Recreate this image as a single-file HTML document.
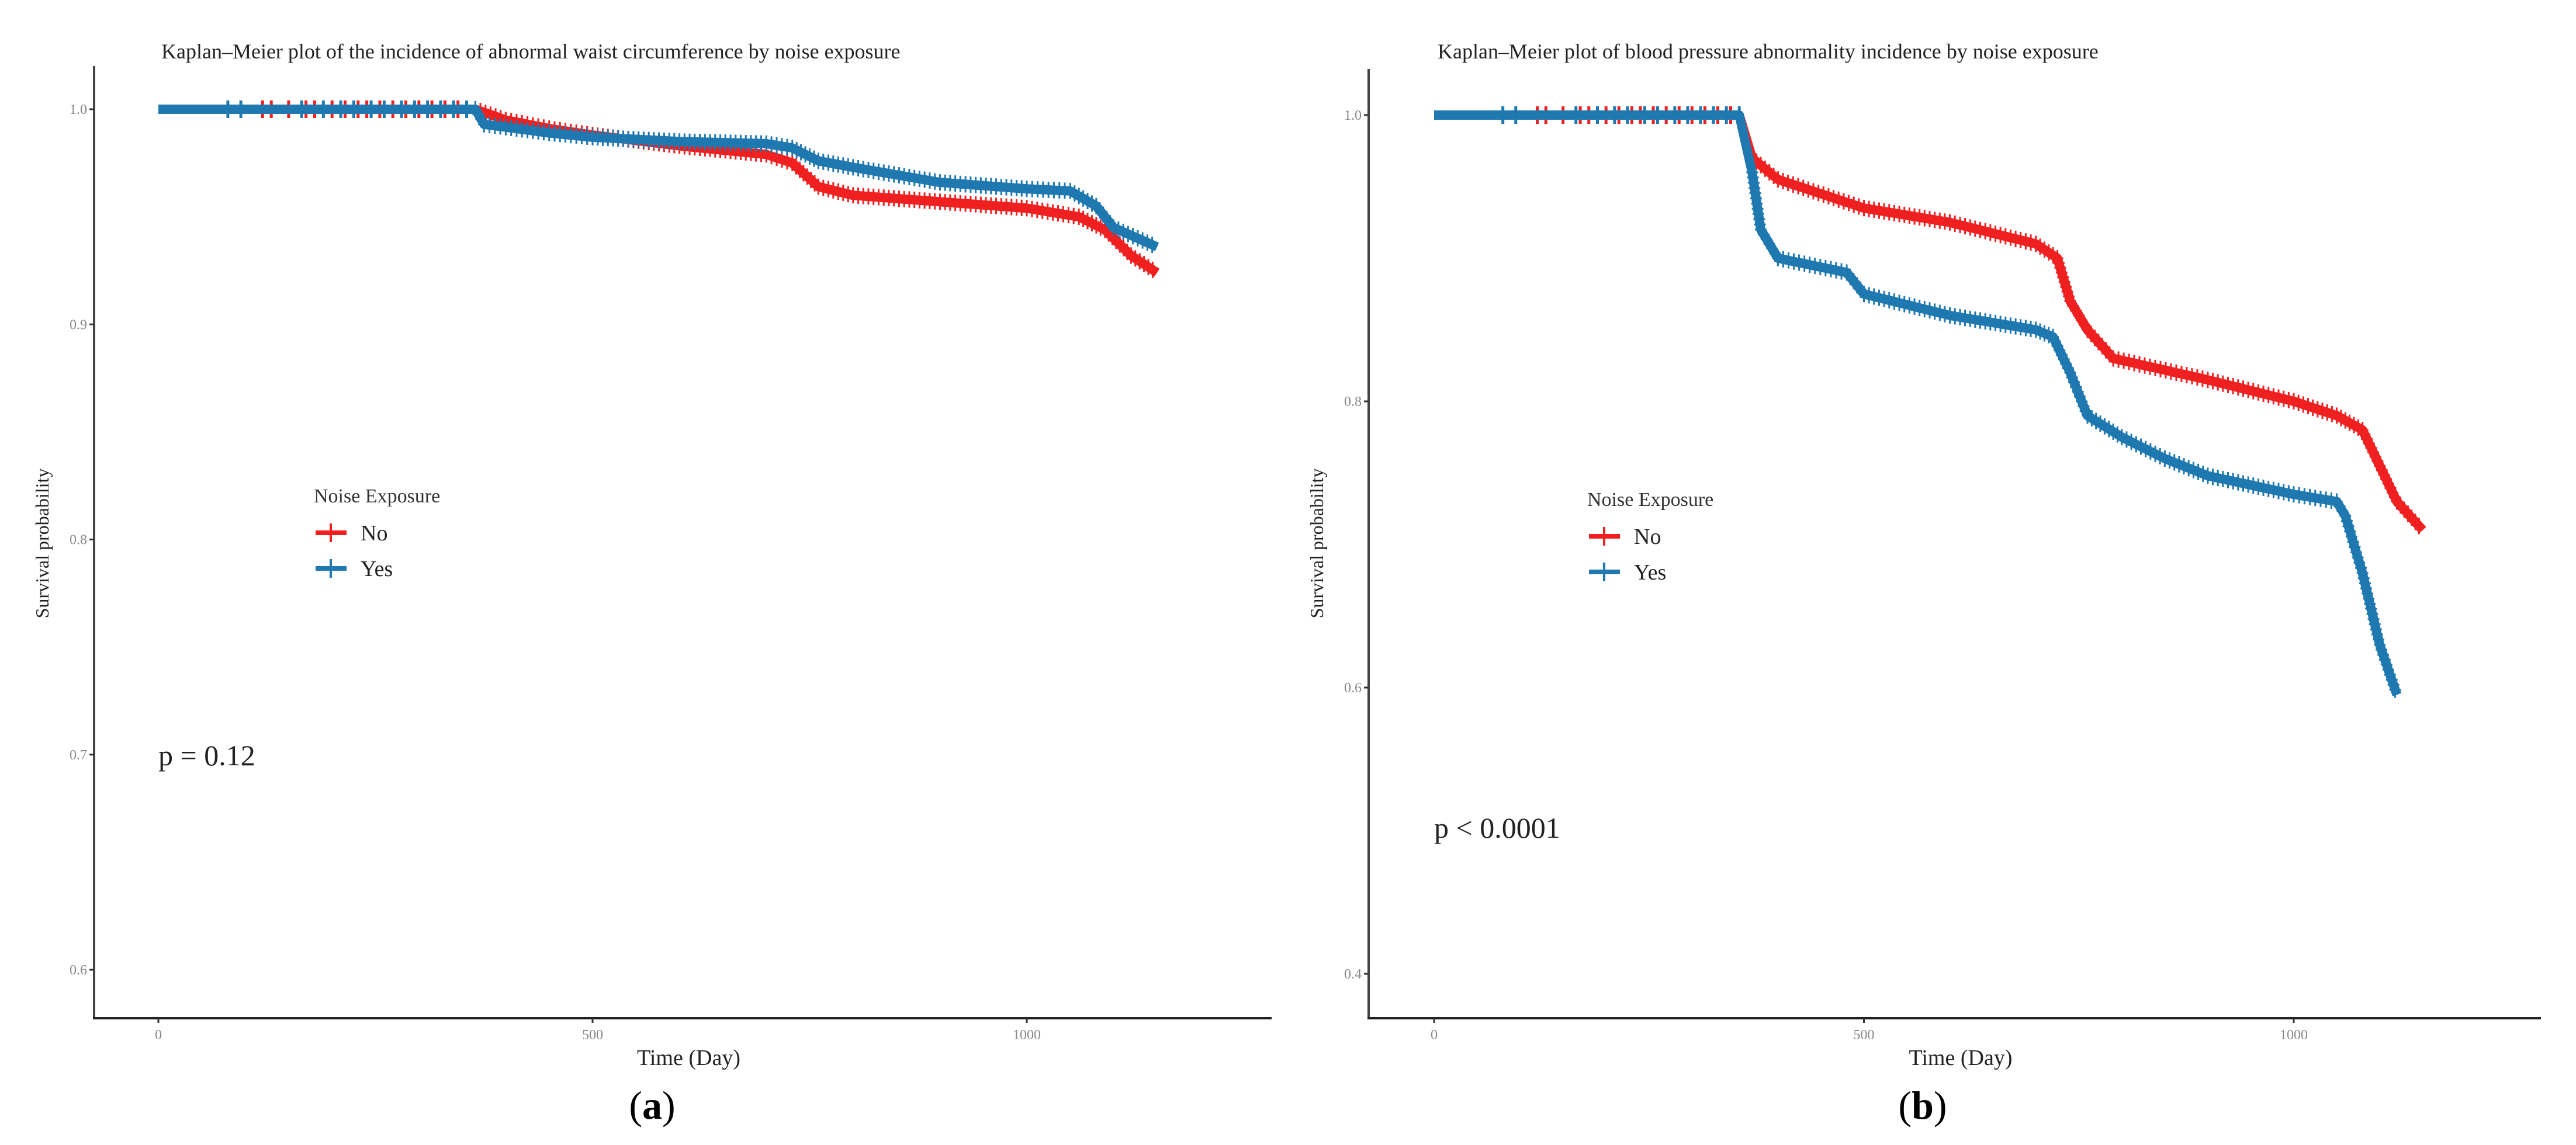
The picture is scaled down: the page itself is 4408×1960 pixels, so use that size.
<!DOCTYPE html>
<html><head><meta charset="utf-8"><style>
html,body{margin:0;padding:0;background:#fff;}
svg{display:block;font-family:"Liberation Serif",serif;}
</style></head><body>
<svg id="fig" width="4408" height="1960" viewBox="0 0 4408 1960" xmlns="http://www.w3.org/2000/svg"></svg>
<script>
// ---- Panel (a) data ----
const aTimesNo = [0, 365, 400, 450, 500, 600, 700, 730, 760, 800, 900, 1000, 1060, 1090, 1120, 1150];
const aSurvNo  = [1.0, 1.0, 0.995, 0.991, 0.988, 0.983, 0.979, 0.975, 0.964, 0.960, 0.957, 0.954, 0.950, 0.944, 0.932, 0.924];
const aTimesYes = [0, 365, 375, 450, 500, 600, 700, 730, 760, 800, 900, 1000, 1050, 1080, 1100, 1150];
const aSurvYes  = [1.0, 1.0, 0.993, 0.989, 0.987, 0.985, 0.984, 0.982, 0.976, 0.973, 0.966, 0.963, 0.962, 0.955, 0.945, 0.936];
const aYTicks = [0.6, 0.7, 0.8, 0.9, 1.0];
const aYTickLabels = ["0.6", "0.7", "0.8", "0.9", "1.0"];
// ---- Panel (b) data ----
const bTimesNo = [0, 355, 370, 400, 500, 600, 700, 725, 740, 760, 790, 900, 1000, 1050, 1080, 1100, 1120, 1150];
const bSurvNo  = [1.0, 1.0, 0.97, 0.955, 0.935, 0.925, 0.91, 0.90, 0.87, 0.85, 0.83, 0.815, 0.80, 0.79, 0.78, 0.755, 0.73, 0.71];
const bTimesYes = [0, 355, 370, 380, 400, 480, 500, 600, 700, 720, 740, 760, 800, 850, 900, 1000, 1050, 1060, 1080, 1100, 1120];
const bSurvYes  = [1.0, 1.0, 0.96, 0.92, 0.90, 0.89, 0.875, 0.86, 0.85, 0.845, 0.82, 0.79, 0.775, 0.76, 0.748, 0.735, 0.73, 0.72, 0.68, 0.63, 0.595];
const bYTicks = [0.4, 0.6, 0.8, 1.0];
const bYTickLabels = ["0.4", "0.6", "0.8", "1.0"];
// shared
const xTicks = [0, 500, 1000];
const xTickLabels = ["0", "500", "1000"];
const censorNo = [120, 130, 150, 170, 180, 200, 215, 230, 240, 255, 270, 285, 300, 315, 330, 345];
const censorYes = [80, 95, 165, 190, 210, 225, 245, 260, 280, 295, 310, 325, 340, 355];

const NS = "http://www.w3.org/2000/svg";
const svg = document.getElementById('fig');
function mk(tag, attrs, parent) {
  const e = document.createElementNS(NS, tag);
  for (const k in attrs) e.setAttribute(k, attrs[k]);
  (parent || svg).appendChild(e);
  return e;
}
function txt(s, attrs, parent) { const e = mk('text', attrs, parent); e.textContent = s; return e; }

function panel(cfg) {
  const g = mk('g', {});
  
  
  const xs = t => cfg.x0 + (t / 1000) * (cfg.x1000 - cfg.x0);
  const ys = v => cfg.yTop + (cfg.vTop - v) / (cfg.vTop - cfg.vBot) * (cfg.yBot - cfg.yTop);
  const ya = mk('line', {x1: cfg.axX, y1: cfg.axTop, x2: cfg.axX, y2: cfg.axY, stroke: '#444', 'stroke-width': 4}, g);
  
  
  const xa = mk('line', {x1: cfg.axX - 2, y1: cfg.axY, x2: cfg.axRight, y2: cfg.axY, stroke: '#222', 'stroke-width': 4}, g);
  
  
  cfg.yTicks.forEach((v, i) => {
    const y = ys(v);
    mk('line', {x1: cfg.axX - 8, y1: y, x2: cfg.axX, y2: y, stroke: '#333', 'stroke-width': 3}, g);
    const t = txt(cfg.yLabels[i], {x: cfg.axX - 12, y: y + 8, 'text-anchor': 'end', 'font-size': 24, fill: '#888'}, g);
    
    
  });
  xTicks.forEach((v, i) => {
    const x = xs(v);
    mk('line', {x1: x, y1: cfg.axY, x2: x, y2: cfg.axY + 8, stroke: '#333', 'stroke-width': 3}, g);
    const t = txt(xTickLabels[i], {x: x, y: cfg.axY + 36, 'text-anchor': 'middle', 'font-size': 24, fill: '#888'}, g);
    
    
  });
  function series(times, surv, color, censor, name) {
    let d = '';
    times.forEach((t, i) => {
      d += (i === 0 ? 'M' : ' L') + xs(t) + ' ' + ys(surv[i]);
    });
    const p = mk('path', {d: d, fill: 'none', stroke: color, 'stroke-width': 16, 'stroke-linejoin': 'round'}, g);
    
    
    for (let i = 1; i < times.length - 1; i++) {
      const xa0 = xs(times[i]), xa1 = xs(times[i + 1]);
      const ya0 = ys(surv[i]), ya1 = ys(surv[i + 1]);
      if (times[i] < 360) continue;
      const len = Math.hypot(xa1 - xa0, ya1 - ya0);
      const n = Math.max(2, Math.round(len / 9));
      for (let k = 0; k < n; k++) {
        const x = xa0 + (xa1 - xa0) * k / n;
        const y = ya0 + (ya1 - ya0) * k / n;
        mk('line', {x1: x, y1: y - 14, x2: x, y2: y + 14, stroke: color, 'stroke-width': 3}, g);
        mk('line', {x1: x - 10, y1: y, x2: x + 10, y2: y, stroke: color, 'stroke-width': 3}, g);
      }
    }
    censor.forEach(t => {
      const c = mk('line', {x1: xs(t), y1: ys(1.0) - 15, x2: xs(t), y2: ys(1.0) + 15, stroke: color, 'stroke-width': 5}, g);
      
      
    });
  }
  series(cfg.tNo, cfg.sNo, '#f02020', censorNo, 'no-exposure');
  series(cfg.tYes, cfg.sYes, '#1f78b0', censorYes, 'yes-exposure');
  const tt = txt(cfg.title, {x: cfg.titleX, y: 100, 'font-size': 36, fill: '#222'}, g);
  
  
  const xt = txt('Time (Day)', {x: (cfg.axX + cfg.axRight) / 2 + 10, y: cfg.axY + 80, 'text-anchor': 'middle', 'font-size': 38, fill: '#222'}, g);
  
  
  const yt = txt('Survival probability', {x: 0, y: 0, 'text-anchor': 'middle', 'font-size': 32, fill: '#222', transform: 'translate(' + (cfg.axX - 78) + ',' + 930 + ') rotate(-90)'}, g);
  
  
  const lg = mk('g', {}, g);
  
  
  txt('Noise Exposure', {x: cfg.legX, y: cfg.legY, 'font-size': 34, fill: '#333'}, lg);
  [['No', '#f02020', 52], ['Yes', '#1f78b0', 113]].forEach(([lab, col, dy]) => {
    const e = mk('g', {}, lg);
    
    
    mk('line', {x1: cfg.legX + 3, y1: cfg.legY + dy, x2: cfg.legX + 56, y2: cfg.legY + dy, stroke: col, 'stroke-width': 8}, e);
    mk('line', {x1: cfg.legX + 29, y1: cfg.legY + dy - 16, x2: cfg.legX + 29, y2: cfg.legY + dy + 16, stroke: col, 'stroke-width': 4}, e);
    txt(lab, {x: cfg.legX + 80, y: cfg.legY + dy + 13, 'font-size': 38, fill: '#222'}, e);
  });
  const pv = txt(cfg.pText, {x: cfg.x0, y: cfg.pY, 'font-size': 50, fill: '#222'}, g);
  
  
  const pl = txt('', {x: cfg.labX, y: 1915, 'text-anchor': 'middle', 'font-size': 68, fill: '#000'}, g);
  pl.innerHTML = '(<tspan font-weight="bold">' + cfg.lab + '</tspan>)';
  
  
}

panel({name: 'panel-a', axX: 161, axTop: 113, axY: 1743, axRight: 2176, x0: 271, x1000: 1757,
  yTop: 187, yBot: 1660, vTop: 1.0, vBot: 0.6, yTicks: aYTicks, yLabels: aYTickLabels,
  tNo: aTimesNo, sNo: aSurvNo, tYes: aTimesYes, sYes: aSurvYes,
  title: 'Kaplan\u2013Meier plot of the incidence of abnormal waist circumference by noise exposure', titleX: 276,
  legX: 537, legY: 860, pText: 'p = 0.12', pY: 1310, lab: 'a', labX: 1116});
panel({name: 'panel-b', axX: 2342, axTop: 118, axY: 1743, axRight: 4348, x0: 2454, x1000: 3925,
  yTop: 197, yBot: 1667, vTop: 1.0, vBot: 0.4, yTicks: bYTicks, yLabels: bYTickLabels,
  tNo: bTimesNo, sNo: bSurvNo, tYes: bTimesYes, sYes: bSurvYes,
  title: 'Kaplan\u2013Meier plot of blood pressure abnormality incidence by noise exposure', titleX: 2460,
  legX: 2716, legY: 866, pText: 'p < 0.0001', pY: 1434, lab: 'b', labX: 3290});
</script>
</body></html>
